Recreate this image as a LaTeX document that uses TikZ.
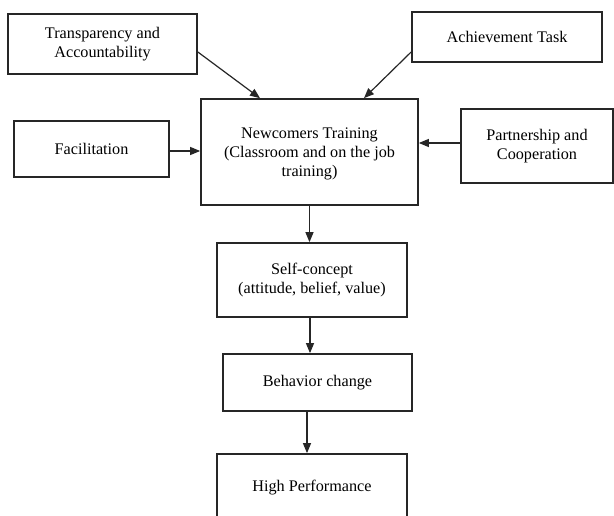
\documentclass[tikz,border=0pt]{standalone}
\usepackage{fontspec}
\setmainfont{Liberation Serif}
\usetikzlibrary{arrows.meta}
\begin{document}
\begin{tikzpicture}[x=1pt,y=-1pt,
  box/.style={draw=black!85, line width=1.7pt, inner sep=0pt, align=center,
    font=\fontsize{16.2}{19}\selectfont},
  link/.style={draw=black!85, line width=1.2pt, -{Triangle[length=10pt,width=8pt]}}]
  \clip (0,0) rectangle (614,516);
  \fill[white] (0,0) rectangle (614,516);

  % input factors
  \node[box, minimum width=189pt, minimum height=60pt] (trans) at (102.5,44)
    {Transparency and\\Accountability};
  \node[box, minimum width=190pt, minimum height=50pt] (ach) at (507,37)
    {Achievement Task};
  \node[box, minimum width=155pt, minimum height=56pt] (fac) at (91.5,149)
    {Facilitation};
  \node[box, minimum width=152pt, minimum height=74pt] (part) at (537,146)
    {Partnership and\\Cooperation};

  % main chain
  \node[box, minimum width=217pt, minimum height=106pt] (news) at (309.5,152)
    {};
  \node[align=center, font=\fontsize{16.2}{19}\selectfont] (newstext) at (309.5,154)
    {Newcomers Training\\(Classroom and on the job\\training)};
  \node[box, minimum width=190pt, minimum height=74pt] (self) at (312,280)
    {Self-concept\\(attitude, belief, value)};
  \node[box, minimum width=189pt, minimum height=57pt] (beh) at (317.5,382.5)
    {Behavior change};
  \node[box, minimum width=190pt, minimum height=68pt] (high) at (312,488)
    {High Performance};

  % connectors
  \draw[link] ([yshift=-8pt]trans.east) -- ([xshift=-49.5pt]news.north);
  \draw[link] ([yshift=-15pt]ach.west) -- ([xshift=54.5pt]news.north);
  \draw[link] ([yshift=-2pt]fac.east) -- ([yshift=-2pt]fac.east -| news.west);
  \draw[link] ([yshift=3pt]part.west) -- ([yshift=3pt]part.west -| news.east);
  \draw[link] (news.south) -- (news.south |- self.north);
  \draw[link] ([xshift=-2pt]self.south) -- ([xshift=-2pt]self.south |- beh.north);
  \draw[link] ([xshift=-10.5pt]beh.south) -- ([xshift=-10.5pt]beh.south |- high.north);
\end{tikzpicture}
\end{document}
